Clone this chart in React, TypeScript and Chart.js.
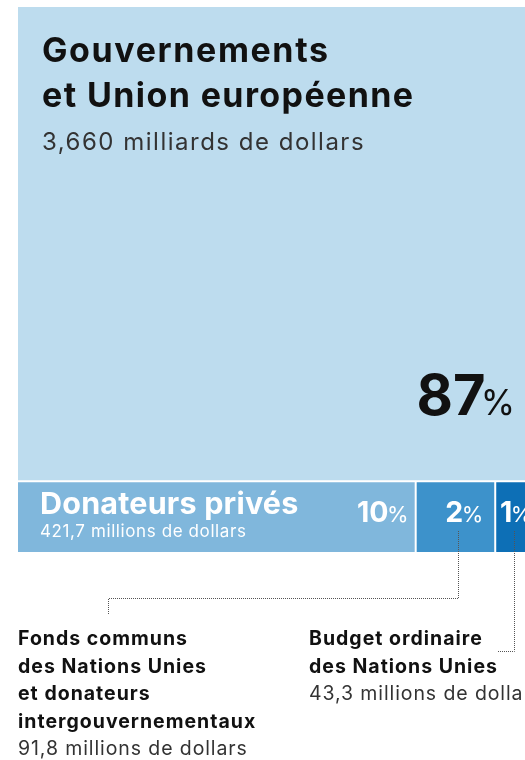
import React, { useEffect, useRef } from "react";
import { Chart, registerables } from "chart.js";

Chart.register(...registerables);

// ---- Data ----
const categoryTitles: string[][] = [
  ["Gouvernements", "et Union européenne"],
  ["Donateurs privés"],
  ["Fonds communs", "des Nations Unies", "et donateurs", "intergouvernementaux"],
  ["Budget ordinaire", "des Nations Unies"],
];
const amountLabels = [
  "3,660 milliards de dollars",
  "421,7 millions de dollars",
  "91,8 millions de dollars",
  "43,3 millions de dollars",
];
const amountsMillions = [3660, 421.7, 91.8, 43.3];
const percents = [87, 10, 2, 1];
const colors = ["#bddcee", "#80b7dc", "#3d92cb", "#0d6fb6"];

const FONT = "Inter, 'Noto Sans', sans-serif";

type Rect = { x0: number; x1: number; y0: number; y1: number };

function layoutRects(): Rect[] {
  // treemap: first item fills a top row, the rest share the bottom row
  const total = percents.reduce((a, b) => a + b, 0);
  const topFrac = percents[0] / total;
  const rest = percents.slice(1);
  const restSum = rest.reduce((a, b) => a + b, 0);
  const rects: Rect[] = [{ x0: 0, x1: 1, y0: 0, y1: topFrac }];
  let acc = 0;
  rest.forEach((v) => {
    rects.push({ x0: acc / restSum, x1: (acc + v) / restSum, y0: topFrac, y1: 1 });
    acc += v;
  });
  return rects;
}

function txt(
  ctx: CanvasRenderingContext2D,
  s: string,
  x: number,
  y: number,
  font: string,
  color: string,
  spacing = 0
) {
  ctx.save();
  ctx.font = font;
  ctx.fillStyle = color;
  ctx.textAlign = "left";
  ctx.textBaseline = "alphabetic";
  (ctx as any).letterSpacing = `${spacing}px`;
  ctx.fillText(s, x, y);
  ctx.restore();
}

function drawPct(
  ctx: CanvasRenderingContext2D,
  num: string,
  numSize: number,
  pctSize: number,
  anchorX: number,
  baseline: number,
  align: "right" | "center",
  color: string,
  gap: number
) {
  ctx.save();
  ctx.fillStyle = color;
  ctx.textBaseline = "alphabetic";
  ctx.textAlign = "left";
  const numFont = `bold ${numSize}px ${FONT}`;
  const pctFont = `${pctSize}px ${FONT}`;
  ctx.font = numFont;
  const nw = ctx.measureText(num).width;
  ctx.font = pctFont;
  const pw = ctx.measureText("%").width;
  const total = nw + gap + pw;
  const left = align === "right" ? anchorX - total : anchorX - total / 2;
  ctx.font = numFont;
  ctx.fillText(num, left, baseline);
  ctx.font = pctFont;
  ctx.fillText("%", left + nw + gap, baseline);
  ctx.restore();
}

const treemapPlugin = {
  id: "treemapPlugin",
  afterDatasetsDraw(chart: any) {
    const ctx: CanvasRenderingContext2D = chart.ctx;
    const xs = chart.scales.x;
    const ys = chart.scales.y;
    const rects = layoutRects().map((r) => ({
      l: xs.getPixelForValue(r.x0),
      r: xs.getPixelForValue(r.x1),
      t: ys.getPixelForValue(r.y0),
      b: ys.getPixelForValue(r.y1),
    }));
    ctx.save();
    rects.forEach((p, i) => {
      ctx.fillStyle = colors[i];
      ctx.fillRect(p.l, p.t, p.r - p.l, p.b - p.t);
    });
    // white separators
    ctx.strokeStyle = "#ffffff";
    ctx.lineWidth = 2;
    ctx.beginPath();
    ctx.moveTo(rects[0].l, rects[0].b);
    ctx.lineTo(rects[0].r + 2, rects[0].b);
    for (let i = 1; i < rects.length - 1; i++) {
      ctx.moveTo(rects[i].r, rects[i].t);
      ctx.lineTo(rects[i].r, rects[i].b);
    }
    ctx.stroke();
    ctx.restore();

    // Top block text
    const top = rects[0];
    txt(ctx, categoryTitles[0][0], top.l + 24, 62, `bold 34px ${FONT}`, "#111111", 1.6);
    txt(ctx, categoryTitles[0][1], top.l + 24, 107, `bold 34px ${FONT}`, "#111111", 1.4);
    txt(ctx, amountLabels[0], top.l + 24, 150, `24px ${FONT}`, "#333333", 1.5);
    drawPct(ctx, String(percents[0]), 56, 35, top.r - 20, 415, "right", "#111111", -5);

    // Donateurs privés
    const pv = rects[1];
    txt(ctx, categoryTitles[1][0], pv.l + 22, 514, `bold 30.5px ${FONT}`, "#ffffff", 0.2);
    txt(ctx, amountLabels[1], pv.l + 22, 537, `17px ${FONT}`, "#ffffff", 0.6);
    drawPct(ctx, String(percents[1]), 28.5, 22, pv.r - 7, 522, "right", "#ffffff", -1.5);

    const fc = rects[2];
    drawPct(ctx, String(percents[2]), 28.5, 22, fc.r - 12, 522, "right", "#ffffff", -1.5);
    const bo = rects[3];
    drawPct(ctx, String(percents[3]), 28.5, 22, (bo.l + bo.r) / 2 + 1, 522, "center", "#ffffff", -1.5);

    // leader lines
    ctx.save();
    ctx.strokeStyle = "#555555";
    ctx.lineWidth = 1;
    ctx.setLineDash([1, 1]);
    const fcX = Math.round((fc.l + fc.r) / 2 + 3) + 0.5;
    ctx.beginPath();
    ctx.moveTo(fcX, 531);
    ctx.lineTo(fcX, 598.5);
    ctx.lineTo(108.5, 598.5);
    ctx.lineTo(108.5, 615);
    ctx.stroke();
    const boX = Math.round((bo.l + bo.r) / 2 - 1) + 0.5;
    ctx.beginPath();
    ctx.moveTo(boX, 531);
    ctx.lineTo(boX, 651.5);
    ctx.lineTo(498, 651.5);
    ctx.stroke();
    ctx.restore();

    // bottom labels
    const lh = 27.5;
    const b0 = 645;
    const boldF = `bold 19.5px ${FONT}`;
    const regF = `19.5px ${FONT}`;
    categoryTitles[2].forEach((t, i) => txt(ctx, t, 18, b0 + i * lh, boldF, "#111111", 1.0));
    txt(ctx, amountLabels[2], 18, b0 + categoryTitles[2].length * lh, regF, "#333333", 0.9);
    categoryTitles[3].forEach((t, i) => txt(ctx, t, 309, b0 + i * lh, boldF, "#111111", 1.0));
    txt(ctx, amountLabels[3], 309, b0 + categoryTitles[3].length * lh, regF, "#333333", 0.9);
  },
};

export default function App() {
  const ref = useRef<HTMLCanvasElement | null>(null);
  useEffect(() => {
    if (!ref.current) return;
    const chart = new Chart(ref.current, {
      type: "scatter",
      data: {
        datasets: [
          {
            label: "montants",
            data: amountsMillions.map((v, i) => ({ x: i / 10, y: v / 10000 })),
            pointRadius: 0,
            showLine: false,
          },
        ],
      },
      options: {
        animation: false,
        responsive: false,
        events: [],
        layout: { padding: { left: 18, top: 7, right: 25, bottom: 208 } },
        plugins: { legend: { display: false }, tooltip: { enabled: false } },
        scales: {
          x: { type: "linear", min: 0, max: 1, display: false },
          y: { type: "linear", min: 0, max: 1, reverse: true, display: false },
        },
      },
      plugins: [treemapPlugin],
    });
    return () => chart.destroy();
  }, []);
  return (
    <div
      style={{
        position: "fixed",
        left: 0,
        top: 0,
        width: 525,
        height: 760,
        overflow: "hidden",
        background: "#ffffff",
      }}
    >
      <canvas ref={ref} width={560} height={760} style={{ width: 560, height: 760, display: "block" }} />
    </div>
  );
}
